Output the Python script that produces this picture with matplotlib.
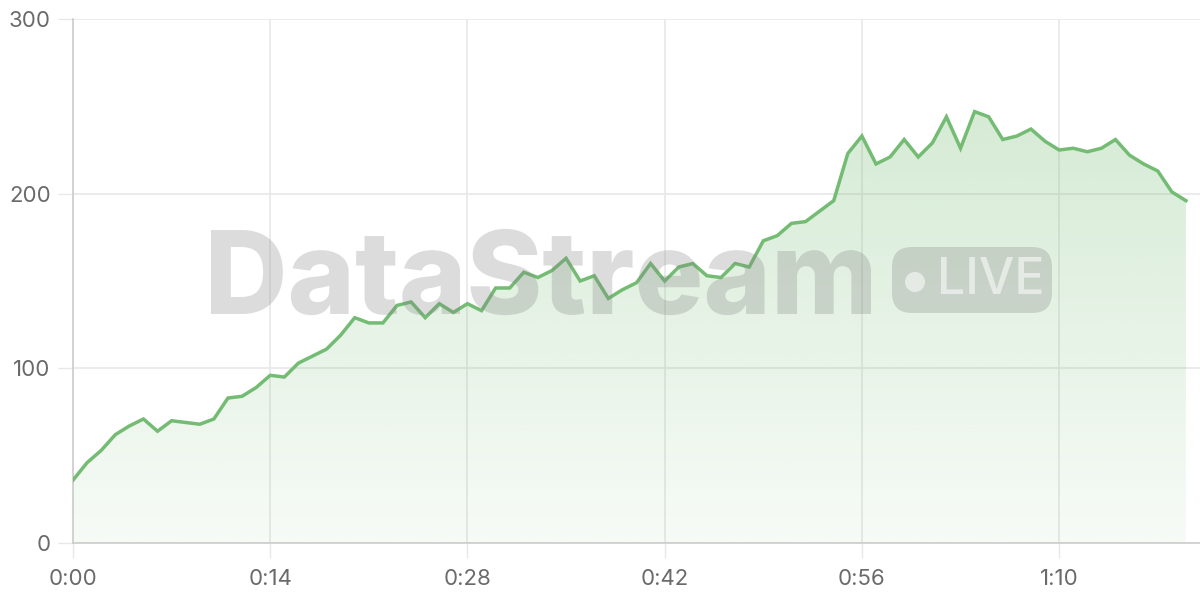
import numpy as np
import matplotlib
matplotlib.use("Agg")
import matplotlib.pyplot as plt
from matplotlib.patches import FancyBboxPatch, Circle, PathPatch
from matplotlib.textpath import TextPath
from matplotlib.font_manager import FontProperties
from matplotlib.transforms import Affine2D
from matplotlib.ticker import FuncFormatter

plt.rcParams['font.family'] = ['Inter', 'DejaVu Sans']

# seconds since start, one sample per second
seconds = list(range(80))
values = [
    36, 46, 53, 62, 67, 71, 64, 70, 69, 68,
    71, 83, 84, 89, 96, 95, 103, 107, 111, 119,
    129, 126, 126, 136, 138, 129, 137, 132, 137, 133,
    146, 146, 155, 152, 156, 163, 150, 153, 140, 145,
    149, 160, 150, 158, 160, 153, 152, 160, 158, 173,
    176, 183, 184, 190, 196, 223, 233, 217, 221, 231,
    221, 229, 244, 226, 247, 244, 231, 233, 237, 230,
    225, 226, 224, 226, 231, 222, 217, 213, 201, 196,
]
x_ticks = [0, 14, 28, 42, 56, 70]
y_ticks = [0, 100, 200, 300]

LINE = '#74bb74'
GRID = '#e8e8e8'
AXIS = '#cccccc'
LABEL = '#6a6a6a'

fig = plt.figure(figsize=(12, 6), dpi=100)
ax = fig.add_axes([73 / 1200, 57 / 600, 1127 / 1200, 524 / 600])

ax.set_xlim(0, 80)
ax.set_ylim(0, 300)

# gradient fill under the line
fill = ax.fill_between(seconds, values, 0, color='none', lw=0)
top = max(values)
grad = np.zeros((256, 2, 4))
grad[..., 0] = 0x74 / 255
grad[..., 1] = 0xbb / 255
grad[..., 2] = 0x74 / 255
grad[..., 3] = np.linspace(0.30, 0.06, 256)[:, None]
img = ax.imshow(grad, extent=[0, 80, 0, top], aspect='auto', origin='upper', zorder=1)
img.set_clip_path(fill.get_paths()[0], transform=ax.transData)

ax.plot(seconds, values, color=LINE, lw=2.5, zorder=4, solid_joinstyle='miter')

# axes styling
ax.set_xticks(x_ticks)
ax.set_yticks(y_ticks)
ax.xaxis.set_major_formatter(FuncFormatter(lambda v, p: f"{int(v) // 60}:{int(v) % 60:02d}"))
ax.grid(True, color=GRID, lw=1.2, zorder=0)
ax.set_axisbelow(True)
for side in ['top', 'right']:
    ax.spines[side].set_visible(False)
for side in ['left', 'bottom']:
    ax.spines[side].set_color(AXIS)
    ax.spines[side].set_linewidth(1.2)
ax.tick_params(axis='both', length=11, width=1, color=GRID, labelcolor=LABEL, labelsize=16)
ax.tick_params(axis='y', pad=5)
ax.tick_params(axis='x', pad=8)

# watermark: squeeze the word into its box (pixels -> inches)
tp = TextPath((0, 0), 'DataStream', size=100, prop=FontProperties(family='Inter', weight='heavy'))
ext = tp.get_extents()
cap = TextPath((0, 0), 'D', size=100, prop=FontProperties(family='Inter', weight='heavy')).get_extents()
sx = (871 - 211) / ext.width / 100
sy = (314 - 230) / cap.height / 100
tr = Affine2D().translate(-ext.x0, 0).scale(sx, sy).translate(2.11, (600 - 314) / 100)
word = PathPatch(tr.transform_path(tp), transform=fig.dpi_scale_trans,
                 fc='#808080', ec='none', alpha=0.27, zorder=3)
fig.add_artist(word)

pill = FancyBboxPatch((8.92, 2.87), 1.60, 0.66, boxstyle='round,pad=0,rounding_size=0.2',
                      transform=fig.dpi_scale_trans, fc='#808080', ec='none', alpha=0.27, zorder=3)
fig.add_artist(pill)
fig.add_artist(Circle((9.15, 3.18), 0.10, transform=fig.dpi_scale_trans,
                      fc='white', ec='none', alpha=0.55, zorder=3))
fig.text(937 / 1200, 1 - 281 / 600, 'LIVE', fontsize=36, fontweight='medium',
         color='white', alpha=0.55, ha='left', va='center', zorder=3)

fig.savefig('out.png', dpi=100)
